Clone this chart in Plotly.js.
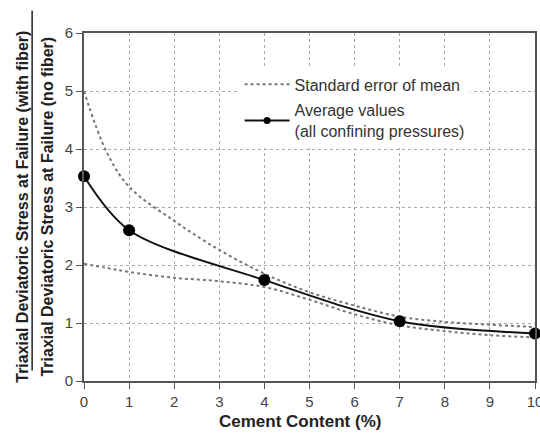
<!DOCTYPE html>
<html>
<head>
<meta charset="utf-8">
<script src="https://cdn.plot.ly/plotly-3.0.1.min.js"></script>
<style>
  html, body { margin: 0; padding: 0; background: #fff; }
  #chart { width: 540px; height: 437px; }
</style>
</head>
<body>
<div id="chart"></div>
<script>
// Cement content (%) at which the averaged ratio was measured
const cementContent = [0, 1, 4, 7, 10];
// Average strength ratio (with fiber / no fiber), all confining pressures
const averageRatio = [3.53, 2.60, 1.74, 1.03, 0.82];

// Standard error of the mean bands
const seX = [0, 0.5, 1, 2, 3, 4, 5, 6, 7, 8, 9, 10];
const seUpper = [5.0, 3.95, 3.35, 2.76, 2.26, 1.85, 1.53, 1.30, 1.11, 1.02, 0.97, 0.93];
const seLower = [2.02, 1.95, 1.88, 1.78, 1.72, 1.62, 1.40, 1.15, 0.96, 0.86, 0.79, 0.75];

const xTicks = [0, 1, 2, 3, 4, 5, 6, 7, 8, 9, 10];
const yTicks = [0, 1, 2, 3, 4, 5, 6];

const FONT = 'Liberation Sans, Arial, sans-serif';
const seLine = { color: '#777', width: 2, dash: 'dot', shape: 'spline', smoothing: 1 };

const traces = [
  {
    x: seX, y: seUpper, mode: 'lines', line: seLine,
    name: 'Standard error of mean', legendgroup: 'se', showlegend: true,
    hoverinfo: 'skip'
  },
  {
    x: seX, y: seLower, mode: 'lines', line: seLine,
    name: 'Standard error of mean', legendgroup: 'se', showlegend: false,
    hoverinfo: 'skip'
  },
  {
    x: cementContent, y: averageRatio, mode: 'lines+markers',
    line: { color: '#111', width: 2, shape: 'spline', smoothing: 0.9 },
    marker: { color: '#000', size: 12 },
    cliponaxis: false, showlegend: false, legendgroup: 'avg'
  },
  {
    // legend entry for the averages, with a smaller symbol
    x: [null], y: [null], mode: 'lines+markers',
    line: { color: '#111', width: 2 },
    marker: { color: '#000', size: 7 },
    name: 'Average values<br>(all confining pressures)', legendgroup: 'avg'
  }
];

const axisCommon = {
  showline: true, mirror: true, linecolor: '#555', linewidth: 2,
  ticks: 'outside', ticklen: 6, tickcolor: '#555', tickwidth: 1,
  showgrid: true, gridcolor: '#aaa', gridwidth: 1, griddash: 'dot',
  zeroline: false, ticklabeloverflow: 'allow',
  tickfont: { family: FONT, size: 15, color: '#444' }
};

const layout = {
  width: 540, height: 437,
  margin: { l: 84, r: 5, t: 33, b: 56 },
  paper_bgcolor: '#fff', plot_bgcolor: '#fff',
  font: { family: FONT, color: '#333' },
  xaxis: Object.assign({}, axisCommon, {
    range: [0, 10], tickvals: xTicks, ticktext: xTicks.map(String)
  }),
  yaxis: Object.assign({}, axisCommon, {
    range: [0, 6], tickvals: yTicks, ticktext: yTicks.map(String)
  }),
  showlegend: true,
  legend: {
    x: 0.345, y: 0.901, xanchor: 'left', yanchor: 'top',
    bgcolor: '#fff', borderwidth: 0, itemwidth: 45, tracegroupgap: 2,
    font: { family: FONT, size: 16, color: '#333' }
  },
  annotations: [
    {
      // x-axis title
      xref: 'paper', yref: 'paper', x: 0.479, y: -0.115,
      xanchor: 'center', yanchor: 'middle', showarrow: false,
      text: '<b>Cement Content (%)</b>',
      font: { family: FONT, size: 17, color: '#222' }
    },
    {
      xref: 'paper', yref: 'paper', x: -0.138, y: 0.5,
      xanchor: 'center', yanchor: 'middle', textangle: -90, showarrow: false,
      text: '<b>Triaxial Deviatoric Stress at Failure (with fiber)</b>',
      font: { family: FONT, size: 16, color: '#222' }
    },
    {
      xref: 'paper', yref: 'paper', x: -0.083, y: 0.5,
      xanchor: 'center', yanchor: 'middle', textangle: -90, showarrow: false,
      text: '<b>Triaxial Deviatoric Stress at Failure (no fiber)</b>',
      font: { family: FONT, size: 16, color: '#222' }
    }
  ],
  shapes: [
    {
      // fraction bar between numerator and denominator of the y title
      type: 'line', xref: 'paper', yref: 'paper',
      x0: -0.115, x1: -0.115, y0: 0.03, y1: 1.065,
      line: { color: '#222', width: 1.5 }
    }
  ]
};

Plotly.newPlot('chart', traces, layout, { displayModeBar: false, staticPlot: true });
</script>
</body>
</html>
